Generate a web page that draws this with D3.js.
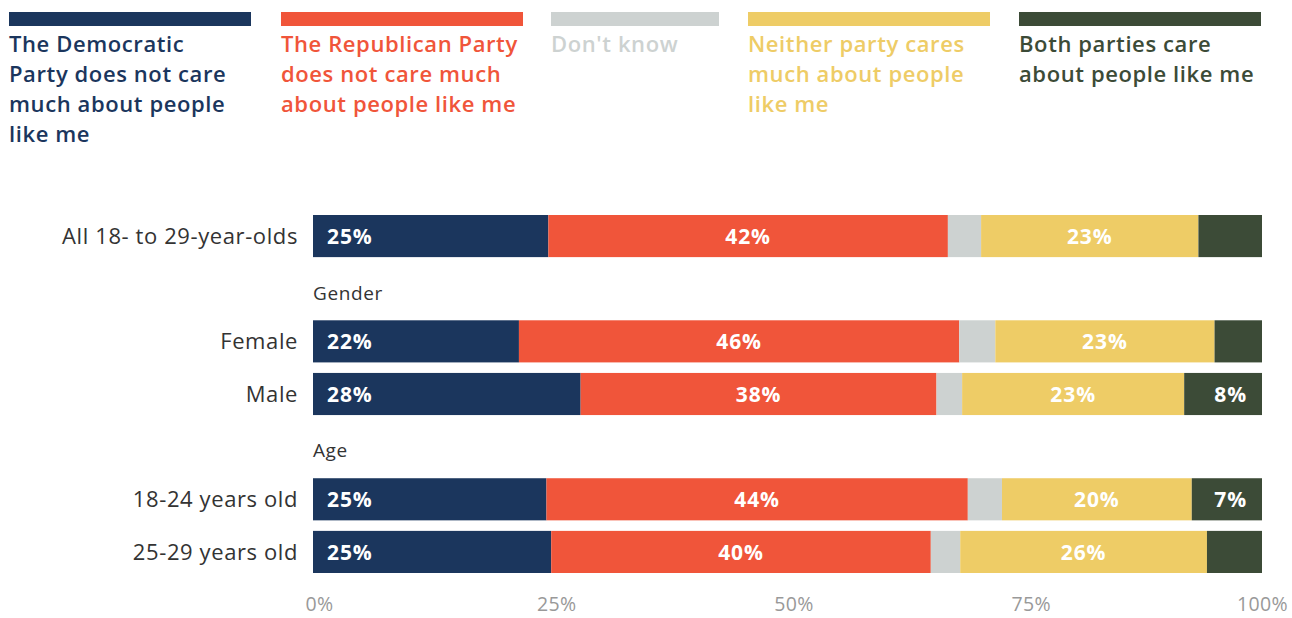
<!DOCTYPE html>
<html>
<head>
<meta charset="utf-8">
<script src="https://cdn.jsdelivr.net/npm/d3@7"></script>
<style>
  html, body { margin: 0; padding: 0; background: #fff; }
  svg { display: block; font-family: "Open Sans", "Noto Sans", sans-serif; }
</style>
</head>
<body>
<svg id="chart" width="1292" height="618"></svg>
<script>
// ---------- data ----------
const rows = ["All 18- to 29-year-olds", "Gender", "Female", "Male", "Age", "18-24 years old", "25-29 years old"];
const headerRows = ["Gender", "Age"];
const categories = ["All 18- to 29-year-olds", "Female", "Male", "18-24 years old", "25-29 years old"];

const seriesNames = [
  "The Democratic Party does not care much about people like me",
  "The Republican Party does not care much about people like me",
  "Don't know",
  "Neither party cares much about people like me",
  "Both parties care about people like me"
];
const legendLines = [
  ["The Democratic", "Party does not care", "much about people", "like me"],
  ["The Republican Party", "does not care much", "about people like me"],
  ["Don't know"],
  ["Neither party cares", "much about people", "like me"],
  ["Both parties care", "about people like me"]
];
const colors = ["#1b365d", "#f0553a", "#cdd2d1", "#eecc66", "#3c4b37"];

const demNotCare = [24.8, 21.7, 28.2, 24.6, 25.1];
const repNotCare = [42.1, 46.4, 37.5, 44.4, 40.0];
const dontKnow   = [3.5, 3.8, 2.7, 3.6, 3.1];
const neither    = [22.9, 23.1, 23.4, 20.0, 26.0];
const both       = [6.7, 5.0, 8.2, 7.4, 5.8];

const xTicks = [0, 25, 50, 75, 100];
const xTickLabels = ["0%", "25%", "50%", "75%", "100%"];

// ---------- layout ----------
const svg = d3.select("#chart");
const x = d3.scaleLinear().domain([0, 100]).range([313, 1262]);
const y = d3.scaleBand().domain(rows).range([215, 573]).paddingInner(0.2).paddingOuter(0);

const seriesValues = [demNotCare, repNotCare, dontKnow, neither, both];
const table = categories.map((c, i) => {
  const o = { category: c };
  seriesNames.forEach((s, j) => { o[s] = seriesValues[j][i]; });
  return o;
});
const stack = d3.stack().keys(seriesNames)(table);

// ---------- legend ----------
const legendX = d3.scaleOrdinal().domain(seriesNames).range([9, 281, 551, 748, 1019]);
const legendW = d3.scaleOrdinal().domain(seriesNames).range([242, 242, 168, 242, 242]);
const lg = svg.append("g").selectAll("g").data(seriesNames).join("g")
  .attr("transform", d => `translate(${legendX(d)},0)`);
lg.append("rect").attr("x", 0).attr("y", 12).attr("height", 14)
  .attr("width", d => legendW(d)).attr("fill", (d, i) => colors[i]);
lg.each(function (d, i) {
  const t = d3.select(this).append("text")
    .attr("fill", colors[i]).attr("font-size", 22).attr("font-weight", 600)
    .attr("letter-spacing", 0.6);
  legendLines[i].forEach((line, k) => {
    t.append("tspan").attr("x", 0).attr("y", 52 + k * 30).text(line);
  });
});

// ---------- bars ----------
const layers = svg.append("g").selectAll("g").data(stack).join("g")
  .attr("fill", (d, i) => colors[i]);
layers.selectAll("rect").data(d => d).join("rect")
  .attr("x", d => x(d[0]))
  .attr("width", d => x(d[1]) - x(d[0]))
  .attr("y", d => y(d.data.category))
  .attr("height", y.bandwidth());

// ---------- value labels ----------
const lastIdx = seriesNames.length - 1;
stack.forEach((layer, li) => {
  svg.append("g").selectAll("text").data(layer.filter(d => d[1] - d[0] >= 7)).join("text")
    .attr("x", d => li === 0 ? x(d[0]) + 14 : li === lastIdx ? x(d[1]) - 15 : (x(d[0]) + x(d[1])) / 2)
    .attr("text-anchor", li === 0 ? "start" : li === lastIdx ? "end" : "middle")
    .attr("y", d => y(d.data.category) + y.bandwidth() / 2)
    .attr("dy", "0.36em")
    .attr("fill", "#fff").attr("font-size", 21).attr("font-weight", 700)
    .attr("letter-spacing", 0.9)
    .text(d => Math.round(d[1] - d[0]) + "%");
});

// ---------- category labels ----------
svg.append("g").selectAll("text").data(categories).join("text")
  .attr("x", 298).attr("text-anchor", "end")
  .attr("y", d => y(d) + y.bandwidth() / 2).attr("dy", "0.36em")
  .attr("fill", "#333").attr("font-size", 22).attr("letter-spacing", 0.6)
  .text(d => d);

svg.append("g").selectAll("text").data(headerRows).join("text")
  .attr("x", 313)
  .attr("y", d => y(d) + y.bandwidth() / 2 + 4).attr("dy", "0.36em")
  .attr("fill", "#333").attr("font-size", 19).attr("letter-spacing", 0.6)
  .text(d => d);

// ---------- x axis ----------
const axis = d3.axisBottom(x).tickValues(xTicks).tickFormat((d, i) => xTickLabels[i]).tickSize(0).tickPadding(0);
const ax = svg.append("g").attr("transform", "translate(0,611)").call(axis);
ax.select(".domain").remove();
ax.selectAll("text").attr("fill", "#999").attr("font-size", 19.5).attr("dy", 0)
  .attr("letter-spacing", 0.3)
  .attr("font-family", "\"Open Sans\", sans-serif")
  .attr("dx", (d, i) => i === xTicks.length - 1 ? 0 : 6);
</script>
</body>
</html>
